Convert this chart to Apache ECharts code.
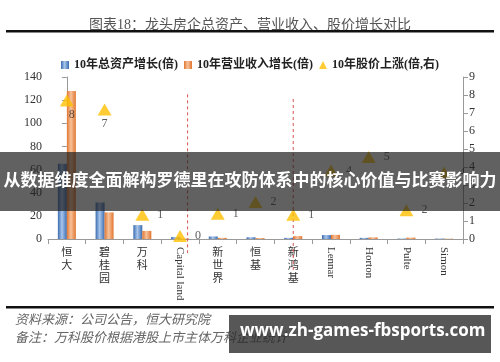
<!DOCTYPE html>
<html><head><meta charset="utf-8">
<script src="https://cdn.jsdelivr.net/npm/echarts@6/dist/echarts.min.js"></script>
<style>html,body{margin:0;padding:0;background:#fff}#c{width:500px;height:362px}</style>
</head><body><div id="c"></div>
<script>
var categories = ['恒大','碧桂园','万科','Capital land','新世界','恒基','新鸿基','Lennar','Horton','Pulte','Simon'];
var assetGrowth = [65, 31.5, 12, 1.7, 2.2, 1.5, 1.0, 3.4, 1.0, 0.4, 0.4];
var revenueGrowth = [128, 23, 7, 0.5, 1.0, 0.8, 2.5, 3.6, 1.4, 1.2, 0.3];
var priceGrowth = [7.7, 7.2, 1.35, 0.17, 1.4, 2.05, 1.35, 3.8, 4.55, 1.6, 3.7];
var priceLabels = ['8','7','1','0','1','2','1','4','5','2','4'];
var leftTicks = [0, 140, 20];
var rightTicks = [0, 9, 1];
var dividerPositions = [3.2, 6.0];
var dividerTop = [125, 121];
var dividerBottom = [-12, -27];
var seriesNames = ['10年总资产增长(倍)','10年营业收入增长(倍)','10年股价上涨(倍,右)'];
var titleText = '图表18：龙头房企总资产、营业收入、股价增长对比';
var bannerText = '从数据维度全面解构罗德里在攻防体系中的核心价值与比赛影响力';
var sourceText = '资料来源：公司公告，恒大研究院';
var noteText = '备注：万科股价根据港股上市主体万科企业统计';
var watermarkText = 'www.zh-games-fbsports.com';

var serif = '"Liberation Serif","Noto Sans CJK SC",serif';
function isCJK(s){ return /[\u4e00-\u9fff]/.test(s); }
function grad(a,b){
  return new echarts.graphic.LinearGradient(0,0,1,0,[
    {offset:0,color:a},{offset:0.45,color:b},{offset:1,color:a}]);
}
var blue = grad('#3b6cb0','#a9c6ec');
var orange = grad('#e27631','#f7c29a');

var chart = echarts.init(document.getElementById('c'), null, {renderer:'canvas'});
var scatterData = priceGrowth.map(function(v,i){
  var lab = {show:true, formatter: priceLabels[i], position:'right', distance:8};
  if (i < 2) { lab.position = 'bottom'; lab.distance = 2; if (i===0) lab.offset=[5,0]; }
  return {value:v, label:lab};
});
var dividerSeries = dividerPositions.map(function(p,i){
  return {type:'line', xAxisIndex:2, yAxisIndex:0, clip:false, silent:true, symbol:'none', z:1,
    data:[[p, dividerTop[i]],[p, dividerBottom[i]]],
    lineStyle:{color:'#d9534f', type:[3,3], width:1}};
});
var option = {
  animation:false,
  textStyle:{fontFamily:serif},
  title:{text:titleText, left:'center', top:13,
    textStyle:{fontSize:14, fontWeight:'normal', color:'#555', fontFamily:serif}},
  legend:{top:54, left:'center', itemWidth:8, itemHeight:8, itemGap:6,
    textStyle:{fontSize:12, fontWeight:'bold', color:'#222', fontFamily:serif},
    data:[{name:seriesNames[0], icon:'rect'},{name:seriesNames[1], icon:'rect'},{name:seriesNames[2], icon:'triangle'}]},
  grid:{left:48, right:37, top:77, bottom:123},
  xAxis:[
    {type:'category', data:categories, position:'bottom',
     axisLine:{lineStyle:{color:'#999'}}, axisTick:{show:true, lineStyle:{color:'#999'}},
     axisLabel:{interval:0, color:'#333', fontSize:11, lineHeight:13, margin:8,
       formatter:function(v){ return isCJK(v) ? v.split('').join('\n') : ''; }}},
    {type:'category', data:categories, position:'bottom',
     axisLine:{show:false}, axisTick:{show:false},
     axisLabel:{interval:0, rotate:-90, color:'#333', fontSize:11, margin:8,
       formatter:function(v){ return isCJK(v) ? '' : v; }}},
    {type:'value', min:-0.5, max:10.5, show:false}
  ],
  yAxis:[
    {type:'value', min:leftTicks[0], max:leftTicks[1], interval:leftTicks[2], splitLine:{show:false},
     axisLine:{show:true, lineStyle:{color:'#999'}}, axisTick:{show:true, lineStyle:{color:'#999'}},
     axisLabel:{color:'#333', fontSize:12, margin:6}},
    {type:'value', min:rightTicks[0], max:rightTicks[1], interval:rightTicks[2], splitLine:{show:false},
     axisLine:{show:true, lineStyle:{color:'#999'}}, axisTick:{show:true, lineStyle:{color:'#999'}},
     axisLabel:{color:'#333', fontSize:12, margin:6}}
  ],
  series:[
    {name:seriesNames[0], type:'bar', data:assetGrowth, barWidth:9, barGap:'0%', itemStyle:{color:blue}},
    {name:seriesNames[1], type:'bar', data:revenueGrowth, barWidth:9, barGap:'0%', itemStyle:{color:orange}},
    {name:seriesNames[2], type:'scatter', yAxisIndex:1, data:scatterData, symbol:'triangle', symbolSize:[14,12],
     itemStyle:{color:'#ffc000'}, z:5,
     label:{color:'#333', fontSize:12, fontFamily:serif}}
  ].concat(dividerSeries),
  graphic:[
    {type:'rect', z:50, shape:{x:6,y:30,width:488,height:2.5}, style:{fill:'#111'}},
    {type:'rect', z:50, shape:{x:6,y:306,width:488,height:2.5}, style:{fill:'#111'}},
    {type:'text', z:50, left:15, top:313, style:{text:sourceText, fill:'#666', font:'italic 13px "Noto Sans CJK SC"'}},
    {type:'text', z:50, left:15, top:331, style:{text:noteText, fill:'#666', font:'italic 13px "Noto Sans CJK SC"'}},
    {type:'rect', z:100, shape:{x:0,y:152,width:500,height:59}, style:{fill:'rgba(30,30,30,0.7)'}},
    {type:'text', z:101, left:'center', top:171, style:{text:bannerText, fill:'#fff', font:'bold 17px "Noto Sans CJK SC"'}},
    {type:'rect', z:100, shape:{x:229,y:315,width:262,height:38}, style:{fill:'rgba(40,40,40,0.78)'}},
    {type:'text', z:101, left:240, top:323, style:{text:watermarkText, fill:'#fff', font:'bold 17px "Open Sans"'}}
  ]
};
chart.setOption(option);
</script></body></html>
